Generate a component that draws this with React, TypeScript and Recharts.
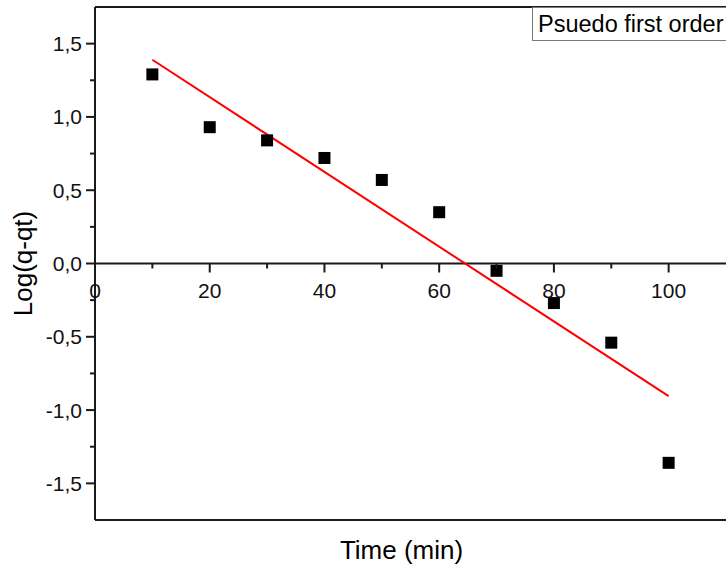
import React from 'react';
import { ComposedChart, Scatter, Line, XAxis, YAxis, ReferenceLine, Legend } from 'recharts';

const times = [10, 20, 30, 40, 50, 60, 70, 80, 90, 100];
const logValues = [1.29, 0.93, 0.84, 0.72, 0.57, 0.35, -0.05, -0.27, -0.54, -1.36];
const fitTimes = [10, 100];
const fitValues = [1.39, -0.905];
const xTicks = [0, 10, 20, 30, 40, 50, 60, 70, 80, 90, 100];
const yTicks = [-1.5, -1.25, -1, -0.75, -0.5, -0.25, 0, 0.25, 0.5, 0.75, 1, 1.25, 1.5];
const legendLabel = 'Psuedo first order';
const xTitle = 'Time (min)';
const yTitle = 'Log(q-qt)';

const W = 726;
const H = 567;
const X_AXIS_H = 47;
const M = { top: 7, right: 0, left: 0, bottom: 0 };
const Y_MIN = -1.75;
const Y_MAX = 1.75;
const PLOT_H = H - M.top - M.bottom - X_AXIS_H;
const ZERO_Y = M.top + PLOT_H * (Y_MAX / (Y_MAX - Y_MIN));

const FONT = '"Liberation Sans", Arial, sans-serif';
const AXIS = '#1a1a1a';

const points = times.map((t, i) => ({ x: t, y: logValues[i] }));
const fit = fitTimes.map((t, i) => ({ x: t, y: fitValues[i] }));

const fmt = (v: number) => v.toFixed(1).replace('.', ',');

const XTick = (props: any) => {
  const { x, payload } = props;
  const v = payload.value as number;
  const major = v % 20 === 0;
  return (
    <g>
      <line x1={x} x2={x} y1={ZERO_Y} y2={ZERO_Y + (major ? 9 : 5)} stroke={AXIS} strokeWidth={2} />
      {major && (
        <text x={x} y={ZERO_Y + 34.5} textAnchor="middle" fontSize={21} fontFamily={FONT} fill="#111">
          {v}
        </text>
      )}
    </g>
  );
};

const YTick = (props: any) => {
  const { x, y, payload } = props;
  const v = payload.value as number;
  const major = Math.abs(Math.round(v * 2) - v * 2) < 1e-6;
  return (
    <g>
      <line x1={x - (major ? 9 : 5)} x2={x} y1={y} y2={y} stroke={AXIS} strokeWidth={2} />
      {major && (
        <text x={x - 13} y={y + 7.5} textAnchor="end" fontSize={21} fontFamily={FONT} fill="#111">
          {fmt(v)}
        </text>
      )}
    </g>
  );
};

const Square = (props: any) => {
  const { cx, cy } = props;
  return <rect x={cx - 6} y={cy - 6} width={12} height={12} fill="#000" />;
};

const LegendBox = () => (
  <div
    style={{
      border: '1px solid #7a7a7a',
      height: 32,
      lineHeight: '32px',
      paddingLeft: 5,
      paddingRight: 10,
      fontFamily: FONT,
      fontSize: 23.5,
      color: '#000',
      background: '#fff',
      whiteSpace: 'nowrap',
      boxSizing: 'content-box',
    }}
  >
    {legendLabel}
  </div>
);

export default function App() {
  return (
    <div style={{ position: 'absolute', left: 0, top: 0, width: W, height: H, background: '#fff' }}>
      <ComposedChart width={W} height={H} margin={M}>
        <XAxis
          type="number"
          dataKey="x"
          domain={[0, 110]}
          ticks={xTicks}
          interval={0}
          height={X_AXIS_H}
          allowDataOverflow
          axisLine={{ stroke: AXIS, strokeWidth: 2 }}
          tickLine={false}
          tickSize={0}
          tickMargin={0}
          tick={<XTick />}
          label={{
            content: (p: any) => {
              const vb = p.viewBox || { x: 95, width: 631 };
              return (
                <text x={vb.x + vb.width / 2 - 9} y={559} textAnchor="middle" fontSize={26} fontFamily={FONT} fill="#000">
                  {xTitle}
                </text>
              );
            },
          }}
        />
        <YAxis
          type="number"
          dataKey="y"
          domain={[Y_MIN, Y_MAX]}
          ticks={yTicks}
          interval={0}
          width={95}
          allowDataOverflow
          axisLine={{ stroke: AXIS, strokeWidth: 2 }}
          tickLine={false}
          tickSize={0}
          tickMargin={0}
          tick={<YTick />}
          label={{
            content: () => (
              <text
                x={32}
                y={ZERO_Y}
                transform={`rotate(-90 32 ${ZERO_Y})`}
                textAnchor="middle"
                fontSize={26}
                fontFamily={FONT}
                fill="#000"
              >
                {yTitle}
              </text>
            ),
          }}
        />
        <ReferenceLine y={Y_MAX} stroke={AXIS} strokeWidth={2} ifOverflow="visible" />
        <ReferenceLine y={0} stroke={AXIS} strokeWidth={2} />
        <Scatter data={points} dataKey="y" fill="#000" shape={<Square />} isAnimationActive={false} />
        <Line data={fit} dataKey="y" type="linear" stroke="#ff0000" strokeWidth={2} dot={false} activeDot={false} isAnimationActive={false} />
        <Legend
          layout="horizontal"
          verticalAlign="middle"
          align="center"
          content={() => <LegendBox />}
          wrapperStyle={{ top: 7, left: 532, width: 'auto', height: 34 }}
        />
      </ComposedChart>
    </div>
  );
}
